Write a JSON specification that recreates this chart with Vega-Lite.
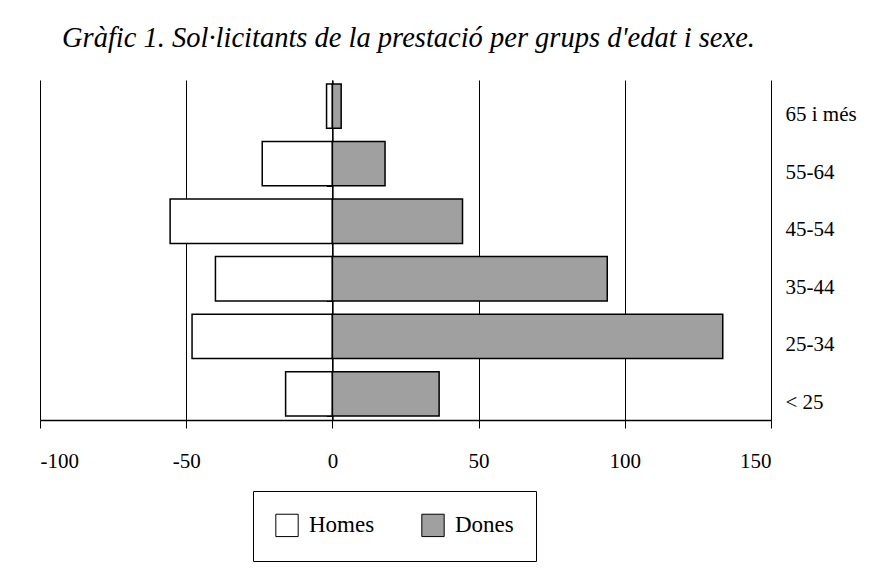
{
  "$schema": "https://vega.github.io/schema/vega-lite/v6.json",
  "width": 731,
  "height": 340,
  "autosize": {"type": "none"},
  "padding": {"left": 40, "top": 80, "right": 119, "bottom": 165},
  "background": "white",
  "title": {
    "text": "Gràfic 1. Sol·licitants de la prestació per grups d'edat i sexe.",
    "font": "Liberation Serif",
    "fontStyle": "italic",
    "fontWeight": "normal",
    "fontSize": 28.5,
    "color": "black",
    "anchor": "start",
    "frame": "group",
    "dx": 22,
    "offset": 28
  },
  "data": {
    "values": [
      {"edat": "65 i més", "sexe": "Homes", "valor": -2},
      {"edat": "65 i més", "sexe": "Dones", "valor": 3},
      {"edat": "55-64", "sexe": "Homes", "valor": -24},
      {"edat": "55-64", "sexe": "Dones", "valor": 18},
      {"edat": "45-54", "sexe": "Homes", "valor": -55.5},
      {"edat": "45-54", "sexe": "Dones", "valor": 44.5},
      {"edat": "35-44", "sexe": "Homes", "valor": -40},
      {"edat": "35-44", "sexe": "Dones", "valor": 94},
      {"edat": "25-34", "sexe": "Homes", "valor": -48},
      {"edat": "25-34", "sexe": "Dones", "valor": 133.5},
      {"edat": "< 25", "sexe": "Homes", "valor": -16},
      {"edat": "< 25", "sexe": "Dones", "valor": 36.5}
    ]
  },
  "config": {
    "view": {"stroke": null},
    "axis": {
      "labelFont": "Liberation Serif",
      "labelColor": "black",
      "labelFontSize": 20,
      "domainColor": "black",
      "tickColor": "black",
      "gridColor": "black",
      "titleFont": "Liberation Serif"
    },
    "legend": {
      "labelFont": "Liberation Serif",
      "labelFontSize": 23,
      "labelColor": "black"
    }
  },
  "layer": [
    {
      "mark": {"type": "bar", "stroke": "black", "strokeWidth": 1.5},
      "encoding": {
        "y": {
          "field": "edat",
          "type": "nominal",
          "sort": ["65 i més", "55-64", "45-54", "35-44", "25-34", "< 25"],
          "scale": {"paddingInner": 0.23, "paddingOuter": 0.07},
          "axis": {
            "orient": "right",
            "title": null,
            "domain": false,
            "ticks": false,
            "labelPadding": 14,
            "labelAlign": "left",
            "labelOffset": 9,
            "labelFontSize": 21
          }
        },
        "x": {
          "field": "valor",
          "type": "quantitative",
          "stack": null,
          "scale": {"domain": [-100, 150], "nice": false, "zero": false},
          "axis": {
            "title": null,
            "values": [-100, -50, 0, 50, 100, 150],
            "labelExpr": "datum.value < 0 ? '-' + abs(datum.value) : '' + datum.value",
            "grid": true,
            "gridWidth": 1,
            "domainWidth": 1.5,
            "tickSize": 8,
            "labelPadding": 22,
            "labelDx": 6,
            "labelFontSize": 21
          }
        },
        "fill": {
          "field": "sexe",
          "type": "nominal",
          "sort": ["Homes", "Dones"],
          "scale": {"domain": ["Homes", "Dones"], "range": ["white", "#a0a0a0"]},
          "legend": {
            "title": null,
            "orient": "none",
            "direction": "horizontal",
            "legendX": 213,
            "legendY": 411,
            "symbolType": "square",
            "symbolSize": 500,
            "symbolStrokeColor": "black",
            "symbolStrokeWidth": 1,
            "strokeColor": "black",
            "padding": 22,
            "columnPadding": 44,
            "labelOffset": 10
          }
        }
      }
    },
    {
      "mark": {"type": "bar", "opacity": 0},
      "encoding": {
        "y": {
          "field": "edat",
          "type": "nominal",
          "sort": ["65 i més", "55-64", "45-54", "35-44", "25-34", "< 25"],
          "axis": {
            "orient": "left",
            "offset": -292.4,
            "title": null,
            "labels": false,
            "domain": true,
            "domainWidth": 1.5,
            "ticks": true,
            "tickBand": "extent",
            "tickSize": 6
          }
        },
        "x": {"field": "valor", "type": "quantitative", "stack": null}
      }
    }
  ],
  "resolve": {"axis": {"y": "independent"}}
}
